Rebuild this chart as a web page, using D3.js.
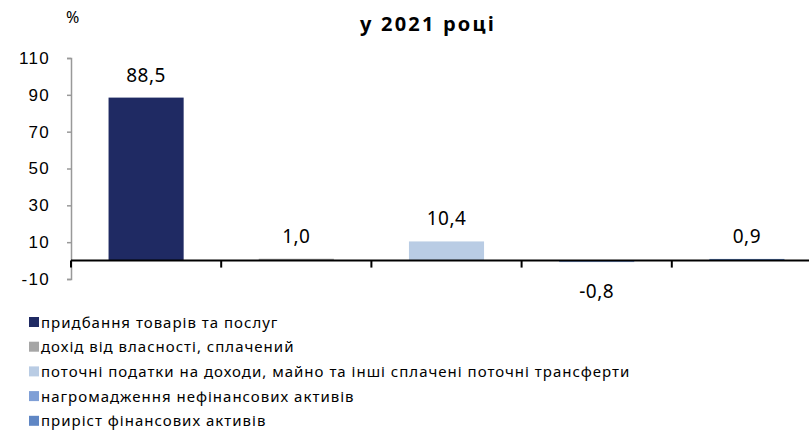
<!DOCTYPE html>
<html>
<head>
<meta charset="utf-8">
<script src="https://cdn.jsdelivr.net/npm/d3@7"></script>
<style>
  body { margin: 0; background: #fff; }
  svg { font-family: "Noto Sans", "DejaVu Sans", sans-serif; }
</style>
</head>
<body>
<div id="chart"></div>
<script>
const categories = [
  "придбання товарів та послуг",
  "дохід від власності, сплачений",
  "поточні податки на доходи, майно та інші сплачені поточні трансферти",
  "нагромадження нефінансових активів",
  "приріст фінансових активів"
];
const values = [88.5, 1.0, 10.4, -0.8, 0.9];
const colors = ["#1f2a63", "#a6a6a6", "#b9cce4", "#7f9fd6", "#5f86c4"];
const yTicks = [-10, 10, 30, 50, 70, 90, 110];

const width = 809, height = 440;
const svg = d3.select("#chart").append("svg")
  .attr("width", width).attr("height", height);

const x = d3.scaleBand().domain(d3.range(categories.length))
  .range([71, 822]).paddingInner(0.5).paddingOuter(0.25);
const y = d3.scaleLinear().domain([-10, 110]).range([279, 58]);

const fmt = v => v.toFixed(1).replace(".", ",");

// title and unit
svg.append("text").attr("x", 428).attr("y", 31)
  .attr("text-anchor", "middle").style("font-size", "20px").style("font-weight", "bold")
  .style("letter-spacing", "2.2px")
  .text("у 2021 році");
svg.append("text").attr("x", 66).attr("y", 23)
  .style("font-size", "16px").text("%");

// y axis
const yAxis = svg.append("g").attr("transform", "translate(71,0)")
  .call(d3.axisLeft(y).tickValues(yTicks).tickSize(4).tickPadding(17).tickFormat(d => String(d)));
yAxis.select(".domain").attr("stroke", "#999").attr("stroke-width", 1.5);
yAxis.selectAll(".tick line").attr("stroke", "#999").attr("stroke-width", 1.5);
yAxis.selectAll(".tick text").style("font-size", "17px").style("font-family", "inherit")
  .style("letter-spacing", "1.3px").attr("fill", "#000");

// bars
svg.selectAll("rect.bar").data(values).enter().append("rect")
  .attr("class", "bar")
  .attr("x", (d, i) => x(i))
  .attr("width", x.bandwidth())
  .attr("y", d => y(Math.max(0, d)))
  .attr("height", d => Math.max(1.5, Math.abs(y(d) - y(0))))
  .attr("fill", (d, i) => colors[i]);

// x axis at zero
const bounds = x.range();
svg.append("line").attr("x1", 71).attr("x2", width).attr("y1", y(0)).attr("y2", y(0))
  .attr("stroke", "#000").attr("stroke-width", 2);
svg.selectAll("line.xtick").data(d3.range(0, categories.length)).enter().append("line")
  .attr("class", "xtick")
  .attr("x1", i => bounds[0] + i * (bounds[1] - bounds[0]) / categories.length)
  .attr("x2", i => bounds[0] + i * (bounds[1] - bounds[0]) / categories.length)
  .attr("y1", y(0)).attr("y2", y(0) + 7)
  .attr("stroke", "#000").attr("stroke-width", 2);

// data labels
svg.selectAll("text.lbl").data(values).enter().append("text")
  .attr("class", "lbl")
  .attr("x", (d, i) => x(i) + x.bandwidth() / 2)
  .attr("y", d => d >= 0 ? y(d) - 16 : y(0) + 37)
  .attr("text-anchor", "middle")
  .style("font-size", "19px")
  .style("letter-spacing", "0.5px")
  .text(fmt);

// legend
const legend = svg.selectAll("g.leg").data(categories).enter().append("g")
  .attr("class", "leg")
  .attr("transform", (d, i) => `translate(29,${317 + i * 24.7})`);
legend.append("rect").attr("width", 10).attr("height", 10).attr("fill", (d, i) => colors[i]);
legend.append("text").attr("x", 12).attr("y", 10.5).style("font-size", "15px")
  .style("letter-spacing", "1px").text(d => d);
</script>
</body>
</html>
